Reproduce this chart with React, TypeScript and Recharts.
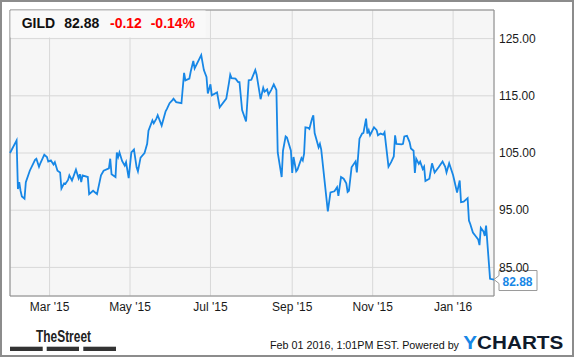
import {
  LineChart,
  Line,
  XAxis,
  YAxis,
  CartesianGrid,
  ReferenceArea,
  ReferenceDot,
} from "recharts";

const DAY = 86400000;
const START = Date.UTC(2015, 0, 30);
const END = Date.UTC(2016, 1, 1);

// day offsets from Jan 30 2015, taken at the turning points of the line
const days = [
  0, 5, 6, 7, 8, 9, 11, 12, 15, 19, 20, 22, 23, 26, 28, 29, 31, 33, 34, 36, 38,
  39, 41, 42, 44, 45, 47, 50, 52, 53, 54, 55, 59, 60, 63, 66, 69, 71, 75, 76,
  77, 80, 81, 82, 83, 85, 87, 88, 90, 92, 94, 96, 97, 99, 102, 104, 105, 108,
  109, 111, 112, 115, 118, 119, 121, 123, 124, 126, 130, 132, 133, 136, 137,
  139, 140, 145, 147, 149, 150, 152, 153, 157, 159, 164, 166, 167, 168, 171,
  173, 174, 176, 179, 181, 183, 186, 187, 190, 192, 193, 195, 196, 198, 200,
  202, 203, 206, 207, 209, 210, 213, 214, 215, 217, 218, 221, 222, 223, 224,
  226, 227, 229, 230, 231, 234, 235, 236, 241, 243, 246, 248, 249, 251, 253,
  255, 256, 257, 259, 262, 263, 265, 267, 268, 270, 271, 272, 273, 276, 278,
  279, 281, 283, 284, 287, 289, 291, 292, 293, 297, 298, 299, 301, 303, 304,
  306, 307, 308, 310, 311, 313, 314, 315, 318, 320, 322, 325, 328, 330, 331,
  333, 336, 339, 341, 342, 344, 347, 348, 349, 351, 353, 355, 356, 357, 359,
  360, 361, 364, 367,
];

const prices = [
  105.0, 107.2, 98.7, 99.9, 98.4, 97.4, 97.0, 99.9, 101.9, 103.8, 104.0, 102.6,
  103.2, 104.7, 104.3, 103.5, 103.7, 103.0, 103.4, 101.9, 101.6, 98.8, 99.7,
  99.6, 100.3, 101.1, 100.2, 102.1, 100.6, 101.3, 99.9, 101.1, 100.8, 97.8,
  98.4, 97.8, 101.1, 101.9, 102.3, 104.0, 101.3, 100.8, 105.1, 104.3, 105.1,
  103.6, 102.8, 103.4, 100.6, 105.1, 105.6, 102.5, 101.8, 104.2, 105.0, 106.6,
  108.9, 110.7, 110.2, 111.0, 111.6, 109.8, 112.3, 112.7, 113.7, 114.2, 114.5,
  113.9, 113.7, 119.0, 117.7, 118.0, 119.2, 121.1, 119.8, 122.1, 119.5, 118.3,
  115.4, 117.0, 115.1, 115.6, 113.0, 114.5, 117.2, 118.7, 118.1, 118.0, 117.4,
  117.4, 112.5, 110.5, 117.7, 117.8, 119.5, 118.7, 114.4, 116.4, 115.7, 116.1,
  115.2, 116.0, 117.0, 116.0, 105.1, 100.8, 105.4, 107.9, 107.7, 105.4, 101.5,
  104.3, 101.8, 102.1, 104.1, 103.7, 104.9, 109.5, 109.4, 109.2, 111.0, 111.6,
  108.5, 106.0, 106.6, 105.6, 94.8, 98.1, 98.3, 99.0, 97.5, 100.8, 100.5, 99.7,
  98.2, 98.4, 102.5, 103.5, 101.6, 107.5, 108.4, 108.5, 111.0, 108.4, 109.0,
  108.1, 109.5, 109.0, 108.1, 108.4, 108.2, 108.6, 102.6, 103.4, 104.4, 108.1,
  106.6, 106.5, 106.6, 107.9, 108.0, 106.9, 105.8, 105.4, 101.5, 104.0, 103.1,
  103.5, 102.2, 102.6, 100.1, 100.5, 103.2, 101.6, 102.5, 103.5, 102.6, 101.6,
  103.2, 101.1, 98.1, 100.2, 96.4, 96.5, 97.1, 93.2, 92.6, 91.1, 90.5, 89.9,
  88.9, 91.9, 91.3, 90.5, 92.3, 83.0, 82.88,
];

const monthTicks = [
  Date.UTC(2015, 2, 1),
  Date.UTC(2015, 4, 1),
  Date.UTC(2015, 6, 1),
  Date.UTC(2015, 8, 1),
  Date.UTC(2015, 10, 1),
  Date.UTC(2016, 0, 1),
];
const monthLabels = ["Mar '15", "May '15", "Jul '15", "Sep '15", "Nov '15", "Jan '16"];
const priceTicks = [85, 95, 105, 115, 125];

const BLUE = "#1787e6";
const FONT = "'Liberation Sans', Arial, sans-serif";

const data = days.map((d, i) => ({ t: START + d * DAY, price: prices[i] }));
const last = data[data.length - 1];

// boxed last-price tag with a little arrow pointing at the line end
const LastPrice = ({ cx, cy }: any) => {
  const bx = cx + 5;
  return (
    <g>
      <path
        d={`M${cx},${cy} L${bx},${cy - 4} V${cy - 9} H${bx + 38} V${cy + 11} H${bx} V${cy + 4} Z`}
        fill="#fff"
        stroke="#9a9a9a"
      />
      <text x={bx + 3.5} y={cy + 6} fill={BLUE} fontSize={12} fontWeight="bold">
        {last.price.toFixed(2)}
      </text>
    </g>
  );
};

export default function App() {
  return (
    <div
      style={{
        position: "absolute",
        left: 0,
        top: 0,
        width: 575,
        height: 358,
        background: "#fff",
        fontFamily: FONT,
      }}
    >
      <LineChart
        width={575}
        height={358}
        data={data}
        margin={{ top: 10, right: 0, left: 10, bottom: 0 }}
        style={{ fontFamily: FONT }}
      >
        <CartesianGrid fill="#f6f6f6" stroke="#d8d8d8" />
        <XAxis
          dataKey="t"
          type="number"
          domain={[START, END]}
          ticks={monthTicks}
          interval={0}
          tickFormatter={(v) => monthLabels[monthTicks.indexOf(v)]}
          axisLine={false}
          tickLine={false}
          tickSize={0}
          tickMargin={6}
          height={62}
          tick={{ fontSize: 12, fill: "#1a1a1a" }}
        />
        <YAxis
          orientation="right"
          domain={[80, 130]}
          ticks={priceTicks}
          interval={0}
          tickFormatter={(v) => v.toFixed(2)}
          axisLine={false}
          tickLine={false}
          tickSize={0}
          tickMargin={5}
          width={81}
          tick={{ fontSize: 12, fill: "#1a1a1a" }}
        />
        <ReferenceArea
          x1={START}
          x2={END}
          y1={80}
          y2={130}
          fill="none"
          stroke="#8a8a8a"
          strokeWidth={1}
        />
        <Line
          type="linear"
          dataKey="price"
          stroke={BLUE}
          strokeWidth={1.8}
          dot={false}
          isAnimationActive={false}
        />
        <ReferenceDot x={last.t} y={last.price} shape={<LastPrice />} />
      </LineChart>

      {/* header box, footer branding and outer frame */}
      <svg
        width={575}
        height={358}
        style={{ position: "absolute", left: 0, top: 0, pointerEvents: "none" }}
        fontFamily={FONT}
      >
        <rect x={10.5} y={10.5} width={195} height={27} fill="#f9f9f9" />
        <text y={28.3} fontSize={14} fontWeight="bold">
          <tspan x={21.7} fill="#111">GILD</tspan>
          <tspan x={64.3} fill="#111">82.88</tspan>
          <tspan x={110} fill="#f00">-0.12</tspan>
          <tspan x={150.7} fill="#f00">-0.14%</tspan>
        </text>

        <text
          x={36}
          y={341.7}
          fontSize={17}
          fontWeight="bold"
          fill="#222"
          textLength={55}
          lengthAdjust="spacingAndGlyphs"
        >
          TheStreet
        </text>
        <rect x={10} y={346.7} width={32.7} height={4.3} fill="#333" />
        <rect x={46.7} y={346.7} width={32.3} height={4.3} fill="#333" />
        <rect x={83.3} y={346.7} width={32.7} height={4.3} fill="#333" />

        <text
          x={270}
          y={348.5}
          fontSize={11}
          fill="#111"
          textLength={189}
          lengthAdjust="spacingAndGlyphs"
        >
          Feb 01 2016, 1:01PM EST.  Powered by
        </text>
        <text
          x={463.3}
          y={348.7}
          fontSize={19}
          fontWeight="bold"
          textLength={100}
          lengthAdjust="spacingAndGlyphs"
        >
          <tspan fill={BLUE}>Y</tspan>
          <tspan fill="#0f1a2b">CHARTS</tspan>
        </text>

        <rect x={1} y={1} width={572} height={355} fill="none" stroke="#8c8c8c" strokeWidth={2} />
      </svg>
    </div>
  );
}
